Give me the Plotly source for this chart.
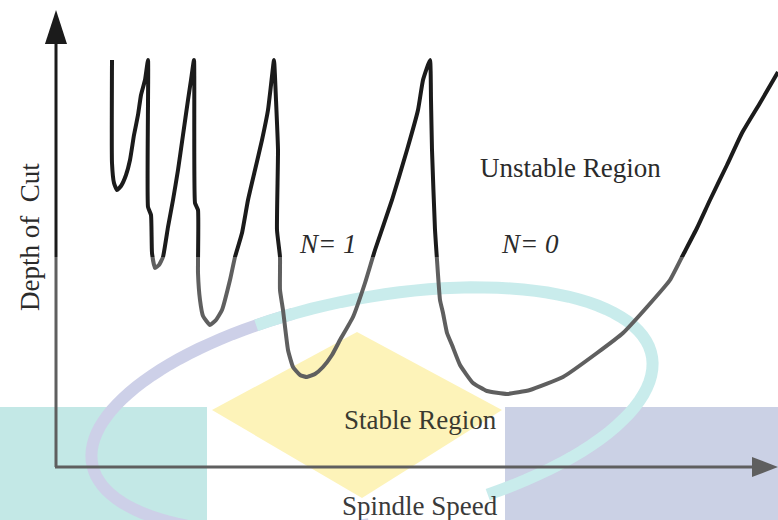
import math
import plotly.graph_objects as go

# ---------------- data (arbitrary units: spindle speed vs. depth of cut) -------------
speed = [56, 56, 58, 61, 65, 70, 74, 78, 82, 85, 89, 92,
         92, 95, 96, 99, 103, 107, 112, 117, 122, 127, 132, 135, 138,
         139, 142, 142, 144, 147, 154, 160, 166, 174, 179, 186, 192, 199, 206, 212, 215, 218,
         220, 222, 221, 224, 224, 227, 232, 237, 244, 251, 259, 267, 276, 284, 297, 309, 319,
         336, 351, 362, 367, 374,
         375, 376, 379, 381, 384, 387, 391, 396, 404, 417, 431, 451, 474, 507, 541, 567,
         591, 614, 627, 641, 654, 671, 686, 704, 722]
depth = [407, 304, 284, 277, 281, 292, 307, 332, 352, 372, 387, 407,
         260, 252, 214, 199, 202, 210, 240, 267, 297, 332, 367, 387, 407,
         264, 257, 194, 167, 151, 142, 147, 157, 187, 210, 234, 267, 297, 327, 357, 382, 407,
         367, 317, 237, 210, 177, 157, 117, 100, 92, 90, 93, 100, 112, 127, 150, 184, 217,
         267, 317, 357, 387, 407,
         367, 317, 237, 207, 167, 154, 134, 122, 102, 84, 76, 73, 77, 90, 114, 134,
         160, 187, 212, 239, 267, 302, 334, 364, 395]

x_label = "Spindle Speed"
y_label = "Depth of\u00a0 Cut"
region_labels = ["Unstable Region", "Stable Region"]
lobe_labels = ["N= 1", "N= 0"]

# ---------------- figure ----------------
W, H = 778, 520


def P(x, y):
    return x / W, 1 - y / H


fig = go.Figure()
fig.add_trace(go.Scatter(x=speed, y=depth, mode="lines",
                         line=dict(color="#1b1b1b", width=4, shape="spline", smoothing=0.4),
                         hoverinfo="skip", showlegend=False))

shapes = []


def rect(x0, y0, x1, y1, color):
    a = P(x0, y0); b = P(x1, y1)
    return dict(type="rect", xref="paper", yref="paper", x0=a[0], y0=b[1], x1=b[0], y1=a[1],
                fillcolor=color, line=dict(width=0), layer="below")


# faint watermark (background)
shapes.append(rect(0, 407, 207, 520, "#a9dedb"))
shapes.append(rect(505, 407, 778, 520, "#b5bdda"))
dpts = [P(357, 332), P(502, 410), P(362, 498), P(212, 410)]
shapes.append(dict(type="path", xref="paper", yref="paper",
                   path="M " + " L ".join(f"{u:.4f},{v:.4f}" for u, v in dpts) + " Z",
                   fillcolor="#fcee9b", line=dict(width=0), layer="below"))

cx, cy, ea, eb, th = 372, 410, 285, 112, math.radians(11)


def arc(p0, p1):
    pts = []
    for k in range(61):
        ph = math.radians(p0 + (p1 - p0) * k / 60)
        x = cx + ea * math.cos(ph) * math.cos(th) + eb * math.sin(ph) * math.sin(th)
        y = cy - ea * math.cos(ph) * math.sin(th) + eb * math.sin(ph) * math.cos(th)
        pts.append(P(x, y))
    return "M " + " L ".join(f"{u:.4f},{v:.4f}" for u, v in pts)


shapes.append(dict(type="path", xref="paper", yref="paper", path=arc(95, 258),
                   line=dict(color="#b8bcde", width=12), layer="below"))
shapes.append(dict(type="path", xref="paper", yref="paper", path=arc(250, 430),
                   line=dict(color="#b2e4e4", width=12), layer="below"))

# axes with arrows
ax_col = "#1b1b1b"
a0 = P(56, 43); a1 = P(56, 467)
shapes.append(dict(type="line", xref="paper", yref="paper", x0=a0[0], y0=a0[1], x1=a1[0], y1=a1[1],
                   line=dict(color=ax_col, width=3), layer="above"))
b0 = P(55, 467); b1 = P(754, 467)
shapes.append(dict(type="line", xref="paper", yref="paper", x0=b0[0], y0=b0[1], x1=b1[0], y1=b1[1],
                   line=dict(color=ax_col, width=3), layer="above"))
tri1 = [P(56, 10), P(67, 44), P(45, 44)]
tri2 = [P(778, 467), P(752, 457), P(752, 477)]
for tri in (tri1, tri2):
    shapes.append(dict(type="path", xref="paper", yref="paper",
                       path="M " + " L ".join(f"{u:.4f},{v:.4f}" for u, v in tri) + " Z",
                       fillcolor=ax_col, line=dict(width=0), layer="above"))

# translucent white veil over the lower part of the picture
v0 = P(0, 257)
shapes.append(dict(type="rect", xref="paper", yref="paper", x0=0, y0=0, x1=1, y1=v0[1],
                   fillcolor="white", opacity=0.3, line=dict(width=0), layer="above"))

font = dict(family="Liberation Serif, Times New Roman, serif", size=27, color="#2b2b2b")

ann = []


def text(t, x, y, f=font, angle=0):
    p = P(x, y)
    ann.append(dict(text=t, x=p[0], y=p[1], xref="paper", yref="paper", showarrow=False,
                    xanchor="center", yanchor="middle", font=f, textangle=angle))


text(region_labels[0], 570, 168)
text(region_labels[1], 420, 420, dict(font, color="#3a3a30"))
text(f"<i>{lobe_labels[0]}</i>", 327, 244)
text(f"<i>{lobe_labels[1]}</i>", 530, 244)
text(x_label, 420, 506, dict(font, color="#3a3a3a"))
text(y_label, 30, 237, angle=-90)

fig.update_layout(
    width=W, height=H, margin=dict(l=0, r=0, t=0, b=0),
    paper_bgcolor="white", plot_bgcolor="white",
    xaxis=dict(range=[-56, 722], visible=False, fixedrange=True),
    yaxis=dict(range=[-53, 467], visible=False, fixedrange=True),
    shapes=shapes, annotations=ann, showlegend=False,
)
fig.write_html("out.html")
